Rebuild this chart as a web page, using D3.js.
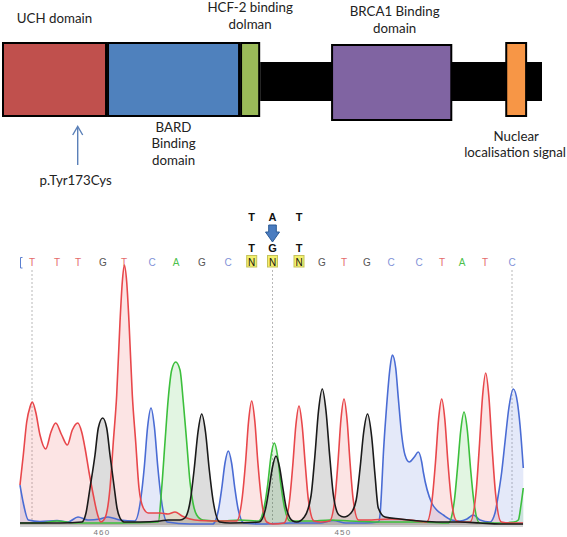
<!DOCTYPE html>
<html><head><meta charset="utf-8">
<script src="https://cdn.jsdelivr.net/npm/d3@7"></script>
<style>html,body{margin:0;padding:0;background:#fff;}svg{display:block;}</style>
</head><body>
<svg id="fig" width="567" height="537"></svg>
<script>
// ---------------- protein schematic data (schematic units; UCH = residues 1-240) ----------------
const proteinLength = 1234;
const domainNames = ["UCH domain", "BARD Binding domain", "HCF-2 binding dolman", "BRCA1 Binding domain", "Nuclear localisation signal"];
const domainStart = [0, 240, 544, 752, 1150];
const domainEnd = [240, 544, 590, 1029, 1200];
const domainLabelLines = [["UCH domain"], ["BARD", "Binding", "domain"], ["HCF-2 binding", "dolman"], ["BRCA1 Binding", "domain"], ["Nuclear", "localisation signal"]];
const mutationName = ["p.Tyr173Cys"];
const mutationResidue = [173];

// ---------------- chromatogram data ----------------
const bases = ["T","T","T","G","T","C","A","G","C","N","N","N","G","T","G","C","C","T","A","T","C"];
const basePeakScan = [12, 37, 58, 83, 104, 132, 156, 182, 208, 231.7, 252.5, 279, 302, 324, 347, 371, 399, 422, 442, 465, 492];
const firstBaseNumber = 463;
const hetIndex = [9, 10, 11];
const hetAllele1 = ["T", "A", "T"];
const hetAllele2 = ["T", "G", "T"];
const variantIndex = [10];

const traceT = [[0,40],[3.3,70],[6.7,103],[10,118],[12.3,123],[15.7,113],[20,90],[25.7,76],[31,93],[35.7,102],[41.7,90],[47.3,80],[52.3,95],[57.7,102],[61.7,93],[65,77],[69,53],[73.3,30],[77.7,10],[81,3],[85,7],[90,37],[93.3,83],[96.7,130],[100,203],[102.3,243],[104.3,260],[106.7,243],[109,203],[112.3,130],[115.7,83],[119,37],[123.3,17],[128.3,12],[140,12],[148,11],[155,13],[162,9],[170,6],[180,4.5],[205,4],[216.7,4],[222.3,28],[225.5,62],[228.6,104],[231.7,124],[234.8,104],[237.9,62],[241.1,28],[246.7,3],[252.7,1],[264,2],[269.6,25],[272.8,60],[275.9,100],[279,119],[282.1,100],[285.3,60],[288.4,25],[294,4],[300.7,3],[309.6,4],[315,27],[318,63],[321,106],[324,126],[327,106],[330,63],[333,27],[338.4,5],[346.7,5],[370,6],[390,5],[406.7,3],[412.3,27],[415.5,63],[418.6,106],[421.7,126],[424.8,106],[427.9,63],[431.1,27],[436.7,4],[441.7,3],[450.1,3],[456,32],[459.2,76],[462.5,128],[465.7,152],[468.9,128],[472.2,76],[475.5,32],[481.3,3],[491.7,2],[503,2]];
const traceC = [[0,40],[3.3,22],[8.3,5],[20,3.5],[37,4.5],[48,3],[58,8],[68,5],[80,6],[88,8],[100,5],[114.8,4],[120.9,27],[124.3,58],[127.6,98],[131,117],[134.4,98],[137.8,58],[141.1,27],[147.2,3],[170,1],[192.7,1],[198.6,16],[201.8,37],[205,62],[208.3,74],[211.6,62],[214.8,37],[218.1,16],[223.9,2],[240,1],[270,2],[300,2],[313,4.5],[326,2],[345,2],[358.3,3],[360,10],[361.7,37],[363.3,70],[365,97],[366.7,120],[370,157],[372.3,170],[375.7,157],[378.3,127],[381.7,90],[385,70],[389.3,63],[394.3,68],[398.3,73],[401.7,63],[403.3,53],[411.7,22],[416.7,15],[423.3,10],[431.7,5],[440,4],[447,6],[453.3,10],[460,5],[470,3],[475,12],[478.3,30],[481.7,53],[485,83],[489,118],[493.3,136],[497.5,122],[500,100],[503.3,57]];
const traceA = [[0,2],[20,2],[37,4],[55,2],[100,2],[138.3,3],[141.7,37],[145,83],[148.3,127],[151.7,155],[155.7,163],[160,155],[163.3,123],[166.7,83],[170,43],[173,22],[176.7,10],[183,5],[200,4],[220,5],[238.7,4],[244.6,20],[247.8,41],[251,69],[254.3,82],[257.6,69],[260.8,41],[264,20],[270,4],[290,4],[310,5],[330,4],[360,3],[400,3],[428.4,2],[434.3,24],[437.5,57],[440.8,95],[444,113],[447.3,95],[450.5,57],[453.8,24],[459.6,2],[480,2],[494,3],[498.3,5],[501,20],[503.3,37]];
const traceG = [[0,2],[40,2],[62,3],[66,12],[70,37],[75,70],[78.3,97],[82.7,107],[86.7,97],[90,70],[94.3,37],[97,17],[100,7],[104,3],[120,3],[140,4],[148,5],[160,5],[164.8,7],[170.4,25],[174.2,56],[178,93],[181.7,111],[185.5,93],[189.2,56],[193,25],[199.7,3],[210,2],[239.2,3],[245.5,16],[249,36],[252.5,58],[256,69],[259.5,58],[263,36],[266.5,16],[272.8,4],[276.7,3],[284.3,8],[291,29],[294.8,68],[298.5,114],[302.3,136],[306,114],[309.8,68],[313.5,29],[319,10],[324,8],[331,12],[336.2,25],[340,56],[343.7,93],[347.5,111],[351.7,88],[355,50],[358.3,17],[365,8],[380,6],[400,4],[420,3],[440,3],[460,2],[480,1],[503,1]];

// ---------------- styles ----------------
const domainColors = ["#c0504d", "#4f81bd", "#9bbb59", "#8064a2", "#f79646"];
const channelColors = {T: "#e8474b", C: "#4a6cd4", A: "#3cbf3c", G: "#1a1a1a"};
const letterColors = {T: "#e46a6a", C: "#8192d8", A: "#4dbf4d", G: "#555555", N: "#111111"};
const labelFont = "Lato, 'Open Sans', sans-serif";
const labelSize = 13.3;

const svg = d3.select("#fig");
svg.append("rect").attr("width", 567).attr("height", 537).attr("fill", "#fff");

// ================= protein schematic =================
const px = d3.scaleLinear().domain([0, proteinLength]).range([2, 542]);
const g1 = svg.append("g");
g1.append("rect").attr("x", px(domainEnd[2])).attr("y", 62).attr("width", px(proteinLength) - px(domainEnd[2])).attr("height", 39).attr("fill", "#000");
const domainBox = [[42, 75], [42, 75], [42, 75], [44, 77], [42, 75]];
g1.selectAll("rect.dom").data(domainNames).enter().append("rect").attr("class", "dom")
  .attr("x", (d, i) => px(domainStart[i]) + 1)
  .attr("y", (d, i) => domainBox[i][0] + 1)
  .attr("width", (d, i) => px(domainEnd[i]) - px(domainStart[i]) - 2)
  .attr("height", (d, i) => domainBox[i][1] - 2)
  .attr("fill", (d, i) => domainColors[i])
  .attr("stroke", "#000").attr("stroke-width", 2);

const labelBaselines = [[22.5], [131.5, 148, 164.5], [12, 28.5], [16, 32.5], [140.5, 157]];
domainLabelLines.forEach((lines, i) => {
  const cx = (px(domainStart[i]) + px(domainEnd[i])) / 2 + (i === 3 ? 3 : 0);
  lines.forEach((t, j) => {
    const el = g1.append("text").attr("x", cx).attr("y", labelBaselines[i][j])
      .attr("text-anchor", "middle").attr("font-family", labelFont).attr("font-size", labelSize)
      .attr("fill", "#222").text(t);
    const w = el.node().getComputedTextLength();
    if (cx + w / 2 > 566) el.attr("x", 566 - w / 2);
  });
});
mutationResidue.forEach((r, i) => {
  const x = px(r);
  g1.append("line").attr("x1", x).attr("x2", x).attr("y1", 165).attr("y2", 127).attr("stroke", "#5b80b8").attr("stroke-width", 1.4);
  g1.append("path").attr("d", `M${x - 5},${135} L${x},${126.5} L${x + 5},${135}`).attr("fill", "none").attr("stroke", "#5b80b8").attr("stroke-width", 1.4);
  g1.append("text").attr("x", x - 2).attr("y", 184.5).attr("text-anchor", "middle").attr("font-family", labelFont).attr("font-size", labelSize).attr("fill", "#222").text(mutationName[i]);
});

// ================= chromatogram =================
const sx = d3.scaleLinear().domain([0, 503]).range([20, 523]);
const sy = d3.scaleLinear().domain([0, 270]).range([525, 255]);
const g2 = svg.append("g");

g2.append("line").attr("x1", sx(0)).attr("x2", sx(503)).attr("y1", 526).attr("y2", 526).attr("stroke", "#d2d2d2").attr("stroke-width", 2);

basePeakScan.forEach((s, i) => {
  if (i % 10 === 0) {
    g2.append("line").attr("x1", sx(s)).attr("x2", sx(s)).attr("y1", 270).attr("y2", 525)
      .attr("stroke", "#b8b8b8").attr("stroke-width", 1).attr("stroke-dasharray", "2,2");
  }
});

const traces = [["C", traceC], ["A", traceA], ["T", traceT], ["G", traceG]];
const area = d3.area().x(d => sx(d[0])).y0(sy(0)).y1(d => sy(d[1])).curve(d3.curveMonotoneX);
const line = d3.line().x(d => sx(d[0])).y(d => sy(d[1])).curve(d3.curveMonotoneX);
traces.forEach(([b, data]) => {
  g2.append("path").attr("d", area(data)).attr("fill", channelColors[b]).attr("fill-opacity", 0.15);
});
traces.forEach(([b, data]) => {
  g2.append("path").attr("d", line(data)).attr("fill", "none").attr("stroke", channelColors[b]).attr("stroke-width", 1.6);
});

g2.append("path").attr("d", `M${sx(0) + 2.5},257.5 H${sx(0) + 0.5} V268 H${sx(0) + 2.5}`).attr("fill", "none").attr("stroke", "#5b7fd0").attr("stroke-width", 1);

bases.forEach((b, i) => {
  const x = sx(basePeakScan[i]);
  if (b === "N") {
    g2.append("rect").attr("x", x - 5).attr("y", 255.5).attr("width", 10).attr("height", 11.5)
      .attr("fill", "#f3f06c").attr("stroke", "#c4c25a").attr("stroke-width", 1);
  }
  g2.append("text").attr("x", x).attr("y", 265.5).attr("text-anchor", "middle")
    .attr("font-family", "'Liberation Sans', Arial, sans-serif").attr("font-size", 10)
    .attr("fill", letterColors[b]).text(b);
});

hetIndex.forEach((idx, k) => {
  const x = sx(basePeakScan[idx]);
  g2.append("text").attr("x", x).attr("y", 221).attr("text-anchor", "middle").attr("font-family", "'Liberation Sans', Arial, sans-serif")
    .attr("font-size", 11).attr("font-weight", "bold").attr("fill", "#111").text(hetAllele1[k]);
  g2.append("text").attr("x", x).attr("y", 252).attr("text-anchor", "middle").attr("font-family", "'Liberation Sans', Arial, sans-serif")
    .attr("font-size", 11).attr("font-weight", "bold").attr("fill", "#111").text(hetAllele2[k]);
});
variantIndex.forEach(idx => {
  const x = sx(basePeakScan[idx]);
  g2.append("path").attr("d", `M${x - 3.8},225 H${x + 3.8} V232 H${x + 7} L${x},242 L${x - 7},232 H${x - 3.8} Z`)
    .attr("fill", "#4a7cc0").attr("stroke", "#2b5a96").attr("stroke-width", 1);
});

bases.forEach((b, i) => {
  const num = firstBaseNumber - i;
  if (num % 10 === 0) {
    g2.append("text").attr("x", sx(basePeakScan[i]) - 1).attr("y", 535).attr("text-anchor", "middle")
      .attr("font-family", "'Liberation Sans', Arial, sans-serif").attr("font-size", 8).attr("letter-spacing", 1.3)
      .attr("fill", "#777").text(num);
  }
});
</script>
</body></html>
